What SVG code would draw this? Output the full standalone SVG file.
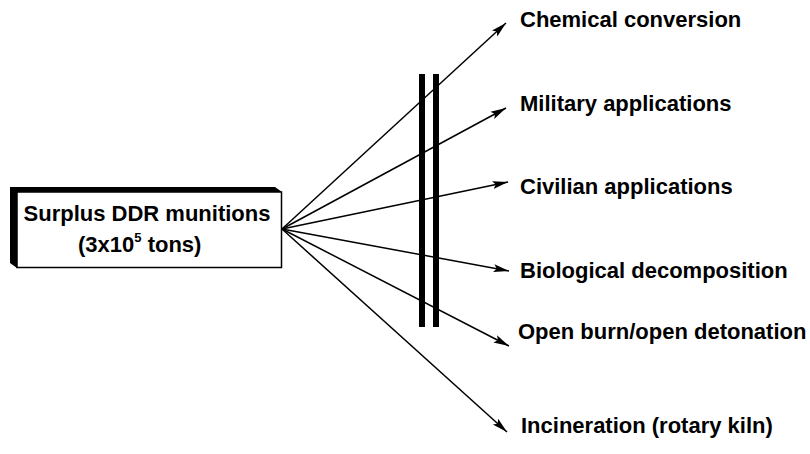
<svg xmlns="http://www.w3.org/2000/svg" width="810" height="454" viewBox="0 0 810 454">
<style>
  .lbl { font-family: "Liberation Sans", Arial, sans-serif; font-weight: bold; font-size: 22px; fill: #000; }
  .conn { stroke: #000; stroke-width: 1.5; fill: none; marker-end: url(#arrow); }
  .bar { fill: #000; }
</style>
<defs>
  <marker id="arrow" markerUnits="userSpaceOnUse" markerWidth="17" markerHeight="10" refX="15.5" refY="5" orient="auto">
    <path d="M0,1 L15.5,5 L0,9 L3,5 z" fill="#000"/>
  </marker>
</defs>
<rect width="810" height="454" fill="#fff"/>
<g id="source">
  <polygon points="17,268 10,263 10,187 275,187 282,192 17,192" fill="#000"/>
  <rect x="17" y="192" width="264.5" height="75.5" fill="#fff" stroke="#000" stroke-width="1.5"/>
  <text class="lbl" x="147" y="221" text-anchor="middle">Surplus DDR munitions</text>
  <text class="lbl" x="78" y="252">(3x10<tspan font-size="13" dy="-10">5</tspan><tspan dy="10"> tons)</tspan></text>
</g>
<g id="barrier">
  <rect class="bar" x="419" y="74" width="6" height="253"/>
  <rect class="bar" x="433" y="74" width="6" height="253"/>
</g>
<g id="connectors">
  <line class="conn" x1="282" y1="229" x2="506" y2="23"/>
  <line class="conn" x1="282" y1="229" x2="506" y2="108"/>
  <line class="conn" x1="282" y1="229" x2="508" y2="182"/>
  <line class="conn" x1="282" y1="229" x2="509" y2="271"/>
  <line class="conn" x1="282" y1="229" x2="509" y2="346"/>
  <line class="conn" x1="282" y1="229" x2="507" y2="432"/>
</g>
<g id="n-chemical"><text class="lbl" x="520" y="27">Chemical conversion</text></g>
<g id="n-military"><text class="lbl" x="520" y="111">Military applications</text></g>
<g id="n-civilian"><text class="lbl" x="520" y="194">Civilian applications</text></g>
<g id="n-biological"><text class="lbl" x="520" y="278">Biological decomposition</text></g>
<g id="n-openburn"><text class="lbl" x="518" y="339">Open burn/open detonation</text></g>
<g id="n-incineration"><text class="lbl" x="521" y="433">Incineration (rotary kiln)</text></g>
</svg>
